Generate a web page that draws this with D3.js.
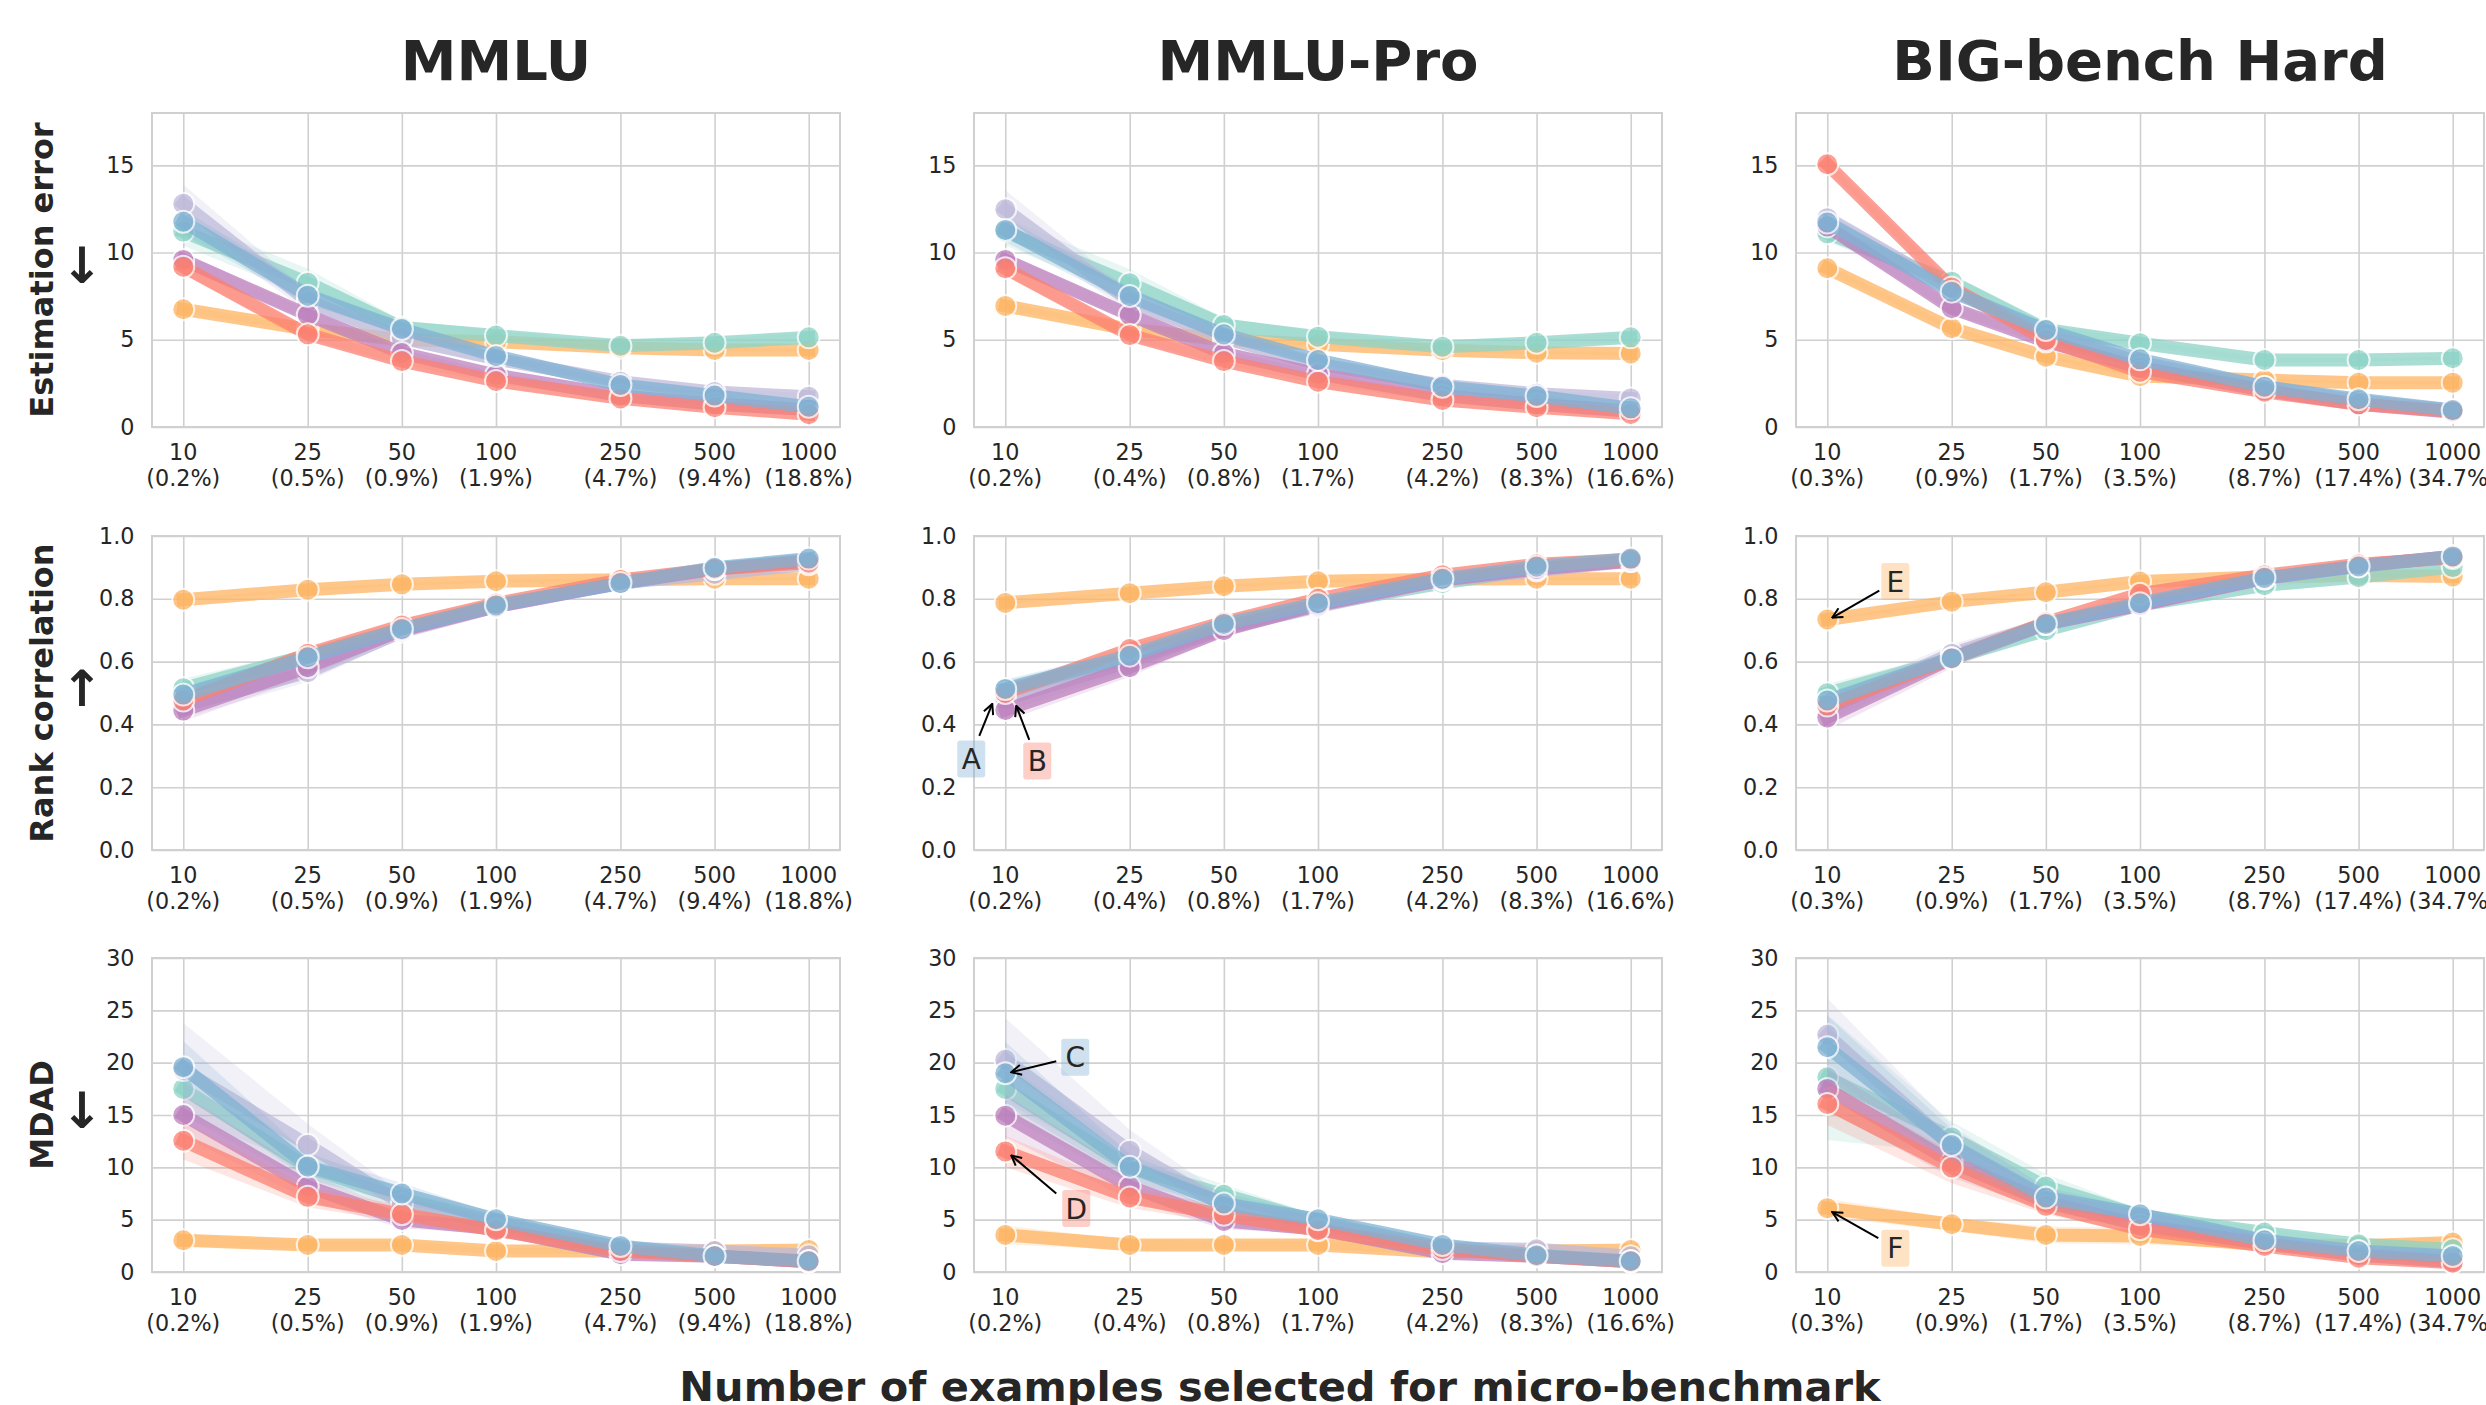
<!DOCTYPE html>
<html><head><meta charset="utf-8">
<script src="https://cdn.jsdelivr.net/npm/d3@7"></script>
<style>
body{margin:0;background:#fff}
svg{display:block}
text{font-family:"DejaVu Sans",sans-serif;fill:#262626}
</style>
</head><body>
<svg id="chart" width="2486" height="1405"></svg>
<script>
// ---------------- DATA ----------------
const sizes = [10, 25, 50, 100, 250, 500, 1000];
const pctMMLU = ["0.2%","0.5%","0.9%","1.9%","4.7%","9.4%","18.8%"];
const pctPro  = ["0.2%","0.4%","0.8%","1.7%","4.2%","8.3%","16.6%"];
const pctBBH  = ["0.3%","0.9%","1.7%","3.5%","8.7%","17.4%","34.7%"];
const benchmarks = ["MMLU", "MMLU-Pro", "BIG-bench Hard"];
const metrics = ["Estimation error", "Rank correlation", "MDAD"];
const metricArrows = ["\u2193", "\u2191", "\u2193"];
// series in drawing order
const seriesKeys = ["orange", "teal", "lavender", "purple", "red", "blue"];
const seriesColors = ["#fdb462", "#8dd3c7", "#bebada", "#bc80bd", "#fb8072", "#80b1d3"];
const yTicksEst = [0, 5, 10, 15];
const yTicksRank = [0, 0.2, 0.4, 0.6, 0.8, 1.0];
const yTicksMdad = [0, 5, 10, 15, 20, 25, 30];

// Estimation error (rows: orange, teal, lavender, purple, red, blue)
const estMMLU = [
  [6.75, 5.6, 5.0, 4.89, 4.55, 4.42, 4.42],
  [11.2, 8.27, 5.7, 5.24, 4.66, 4.83, 5.14],
  [12.8, 7.2, 5.1, 3.9, 2.6, 2.0, 1.74],
  [9.58, 6.42, 4.24, 2.98, 1.8, 1.3, 1.0],
  [9.19, 5.31, 3.78, 2.64, 1.64, 1.13, 0.73],
  [11.77, 7.53, 5.62, 4.07, 2.41, 1.8, 1.16]];
const estPro = [
  [6.94, 5.6, 5.0, 4.75, 4.4, 4.26, 4.22],
  [11.2, 8.24, 5.85, 5.18, 4.6, 4.83, 5.14],
  [12.48, 7.2, 5.1, 3.6, 2.4, 1.9, 1.64],
  [9.58, 6.42, 4.22, 3.04, 1.8, 1.3, 0.9],
  [9.1, 5.27, 3.78, 2.6, 1.55, 1.13, 0.75],
  [11.3, 7.51, 5.31, 3.84, 2.31, 1.78, 1.07]];
const estBBH = [
  [9.1, 5.66, 4.03, 2.92, 2.69, 2.54, 2.54],
  [11.1, 8.33, 5.6, 4.8, 3.84, 3.84, 3.94],
  [11.97, 7.9, 5.3, 3.7, 2.3, 1.5, 0.95],
  [11.5, 6.81, 4.9, 3.4, 2.1, 1.3, 0.85],
  [15.06, 8.0, 4.99, 3.17, 2.02, 1.3, 0.9],
  [11.72, 7.76, 5.56, 3.88, 2.31, 1.59, 0.97]];
const estMMLUci = [
  [0.2, 0.15, 0.1, 0.1, 0.1, 0.1, 0.1],
  [0.8, 0.8, 0.4, 0.3, 0.2, 0.2, 0.3],
  [1.1, 0.6, 0.4, 0.3, 0.2, 0.2, 0.2],
  [0.4, 0.3, 0.2, 0.15, 0.1, 0.1, 0.1],
  [0.4, 0.3, 0.2, 0.15, 0.1, 0.1, 0.1],
  [0.7, 0.5, 0.3, 0.2, 0.15, 0.1, 0.1]];
const estProci = [
  [0.2, 0.15, 0.1, 0.1, 0.1, 0.1, 0.1],
  [0.8, 0.8, 0.4, 0.3, 0.2, 0.2, 0.3],
  [1.1, 0.6, 0.4, 0.3, 0.2, 0.2, 0.2],
  [0.4, 0.3, 0.2, 0.15, 0.1, 0.1, 0.1],
  [0.4, 0.3, 0.2, 0.15, 0.1, 0.1, 0.1],
  [0.7, 0.5, 0.3, 0.2, 0.15, 0.1, 0.1]];
const estBBHci = [
  [0.2, 0.15, 0.1, 0.1, 0.1, 0.1, 0.1],
  [0.5, 0.4, 0.3, 0.2, 0.15, 0.1, 0.1],
  [0.5, 0.4, 0.3, 0.2, 0.15, 0.1, 0.1],
  [0.4, 0.3, 0.2, 0.15, 0.1, 0.1, 0.1],
  [0.3, 0.3, 0.2, 0.15, 0.1, 0.1, 0.1],
  [0.5, 0.4, 0.3, 0.2, 0.15, 0.1, 0.1]];

// Rank correlation
const rankMMLU = [
  [0.797, 0.829, 0.846, 0.856, 0.861, 0.864, 0.864],
  [0.515, 0.62, 0.705, 0.78, 0.848, 0.895, 0.925],
  [0.46, 0.566, 0.695, 0.775, 0.85, 0.88, 0.91],
  [0.444, 0.582, 0.70, 0.775, 0.85, 0.895, 0.92],
  [0.476, 0.625, 0.715, 0.785, 0.86, 0.895, 0.915],
  [0.495, 0.614, 0.704, 0.779, 0.85, 0.899, 0.928]];
const rankPro = [
  [0.787, 0.818, 0.84, 0.856, 0.862, 0.864, 0.864],
  [0.51, 0.61, 0.71, 0.78, 0.85, 0.895, 0.922],
  [0.48, 0.60, 0.705, 0.775, 0.86, 0.89, 0.92],
  [0.446, 0.582, 0.70, 0.78, 0.86, 0.895, 0.92],
  [0.50, 0.64, 0.725, 0.80, 0.875, 0.91, 0.925],
  [0.513, 0.619, 0.72, 0.786, 0.864, 0.903, 0.928]];
const rankBBH = [
  [0.734, 0.791, 0.821, 0.855, 0.87, 0.874, 0.871],
  [0.499, 0.61, 0.70, 0.78, 0.843, 0.869, 0.901],
  [0.45, 0.625, 0.72, 0.78, 0.865, 0.905, 0.935],
  [0.422, 0.61, 0.72, 0.78, 0.865, 0.905, 0.935],
  [0.46, 0.61, 0.725, 0.816, 0.875, 0.91, 0.93],
  [0.476, 0.611, 0.72, 0.786, 0.867, 0.903, 0.935]];
const rankMMLUci = [
  [0.005, 0.005, 0.005, 0.005, 0.005, 0.005, 0.005],
  [0.03, 0.02, 0.01, 0.01, 0.008, 0.005, 0.005],
  [0.04, 0.03, 0.02, 0.012, 0.01, 0.008, 0.006],
  [0.035, 0.03, 0.02, 0.012, 0.01, 0.008, 0.006],
  [0.02, 0.015, 0.01, 0.01, 0.008, 0.005, 0.005],
  [0.025, 0.02, 0.01, 0.01, 0.008, 0.005, 0.005]];
const rankProci = [
  [0.005, 0.005, 0.005, 0.005, 0.005, 0.005, 0.005],
  [0.03, 0.02, 0.01, 0.01, 0.008, 0.005, 0.005],
  [0.04, 0.03, 0.02, 0.012, 0.01, 0.008, 0.006],
  [0.035, 0.03, 0.02, 0.012, 0.01, 0.008, 0.006],
  [0.02, 0.015, 0.01, 0.01, 0.008, 0.005, 0.005],
  [0.03, 0.02, 0.01, 0.01, 0.008, 0.005, 0.005]];
const rankBBHci = [
  [0.005, 0.005, 0.005, 0.005, 0.005, 0.005, 0.005],
  [0.03, 0.02, 0.01, 0.01, 0.008, 0.005, 0.005],
  [0.04, 0.03, 0.02, 0.012, 0.01, 0.008, 0.006],
  [0.04, 0.03, 0.02, 0.012, 0.01, 0.008, 0.006],
  [0.02, 0.015, 0.01, 0.01, 0.008, 0.005, 0.005],
  [0.025, 0.02, 0.01, 0.01, 0.008, 0.005, 0.005]];

// MDAD
const mdadMMLU = [
  [3.03, 2.59, 2.59, 2.01, 2.0, 2.0, 2.1],
  [17.49, 10.0, 6.96, 4.8, 2.3, 1.5, 1.0],
  [19.3, 12.16, 6.5, 4.6, 2.3, 2.0, 1.6],
  [15.0, 8.17, 4.98, 4.1, 1.7, 1.5, 1.0],
  [12.54, 7.18, 5.52, 3.99, 2.0, 1.5, 1.0],
  [19.57, 10.09, 7.5, 5.04, 2.49, 1.53, 1.05]];
const mdadPro = [
  [3.54, 2.59, 2.59, 2.59, 1.9, 2.0, 2.1],
  [17.49, 10.0, 7.37, 4.8, 2.3, 1.5, 1.0],
  [20.27, 11.59, 6.3, 4.7, 2.3, 2.17, 1.5],
  [14.94, 8.17, 4.88, 4.1, 1.8, 1.5, 1.0],
  [11.52, 7.12, 5.46, 3.99, 2.2, 1.5, 1.0],
  [18.99, 10.05, 6.54, 5.04, 2.59, 1.6, 1.05]];
const mdadBBH = [
  [6.1, 4.56, 3.54, 3.45, 2.6, 2.5, 2.81],
  [18.6, 12.86, 8.17, 5.4, 3.77, 2.65, 2.17],
  [22.66, 12.0, 7.0, 5.2, 3.0, 1.9, 1.4],
  [17.49, 10.5, 6.7, 4.5, 2.7, 1.6, 1.0],
  [16.05, 9.99, 6.32, 4.09, 2.49, 1.37, 0.89],
  [21.48, 12.13, 7.12, 5.52, 3.03, 2.01, 1.53]];
const mdadMMLUci = [
  [0.6, 0.4, 0.4, 0.3, 0.3, 0.3, 0.3],
  [2.5, 1.5, 1.0, 0.6, 0.3, 0.3, 0.2],
  [4.5, 2.0, 1.0, 0.6, 0.3, 0.3, 0.3],
  [2.0, 1.3, 0.8, 0.5, 0.3, 0.2, 0.2],
  [1.8, 1.0, 0.8, 0.5, 0.3, 0.2, 0.2],
  [2.5, 1.2, 1.0, 0.5, 0.3, 0.2, 0.2]];
const mdadProci = [
  [0.9, 0.5, 0.4, 0.4, 0.3, 0.3, 0.3],
  [2.5, 1.5, 1.0, 0.6, 0.3, 0.3, 0.2],
  [4.0, 2.0, 1.0, 0.6, 0.3, 0.3, 0.3],
  [2.0, 1.3, 0.8, 0.5, 0.3, 0.2, 0.2],
  [1.5, 1.0, 0.8, 0.5, 0.3, 0.2, 0.2],
  [3.0, 1.2, 1.0, 0.5, 0.3, 0.2, 0.2]];
const mdadBBHci = [
  [0.9, 0.6, 0.8, 0.8, 0.4, 0.5, 0.5],
  [6.0, 1.5, 1.2, 0.6, 0.4, 0.3, 0.3],
  [3.5, 2.0, 1.0, 0.6, 0.4, 0.3, 0.3],
  [2.0, 1.5, 0.8, 0.5, 0.3, 0.2, 0.2],
  [2.0, 1.5, 0.8, 0.5, 0.3, 0.2, 0.2],
  [3.0, 1.5, 1.0, 0.5, 0.4, 0.3, 0.3]];

// ---------------- LAYOUT ----------------
const svg = d3.select("#chart");
const colLeft = [152, 974, 1796], panelW = 688;
const rowTop = [113, 536, 958], panelH = 314;
const yDomains = [[0, 18], [0, 1], [0, 30]];
const yTicks = [yTicksEst, yTicksRank, yTicksMdad];
const yFormats = [d3.format("d"), d3.format(".1f"), d3.format("d")];
const pcts = [pctMMLU, pctPro, pctBBH];
const values = [[estMMLU, estPro, estBBH], [rankMMLU, rankPro, rankBBH], [mdadMMLU, mdadPro, mdadBBH]];
const cis = [[estMMLUci, estProci, estBBHci], [rankMMLUci, rankProci, rankBBHci], [mdadMMLUci, mdadProci, mdadBBHci]];
const gridColor = "#d0d0d0";
const tickFont = 22.3;

// annotations: [row, col, seriesIndex, pointIndex, label, boxColor, head dx,dy, tail dx,dy, label dx,dy]
const annotations = [
  [1, 1, 5, 0, "A", "rgba(128,177,211,0.38)", -13, 15, -26, 47, -34, 70],
  [1, 1, 3, 0, "B", "rgba(251,128,114,0.38)", 11, -4, 24, 30, 32, 51],
  [2, 1, 5, 0, "C", "rgba(128,177,211,0.38)", 6, -1, 51, -12, 70, -16],
  [2, 1, 4, 0, "D", "rgba(251,128,114,0.38)", 6, 4, 51, 42, 71, 57],
  [1, 2, 0, 0, "E", "rgba(253,180,98,0.38)", 5, -2, 52, -29, 68, -38],
  [2, 2, 0, 0, "F", "rgba(253,180,98,0.38)", 5, 4, 51, 30, 68, 40]
];

const defs = svg.append("defs");
defs.append("marker").attr("id", "ahead").attr("viewBox", "0 0 12 12")
  .attr("refX", 11).attr("refY", 6).attr("markerWidth", 12).attr("markerHeight", 12)
  .attr("markerUnits", "userSpaceOnUse").attr("orient", "auto")
  .append("path").attr("d", "M1,1 L11,6 L1,11").attr("fill", "none")
  .attr("stroke", "#000").attr("stroke-width", 2);

const scales = {};

for (let r = 0; r < 3; r++) {
  for (let c = 0; c < 3; c++) {
    const g = svg.append("g").attr("transform", `translate(${colLeft[c]},${rowTop[r]})`);
    const xs = d3.scaleLog().domain([Math.pow(10, 0.9), Math.pow(10, 3.1)]).range([0, panelW]);
    const ys = d3.scaleLinear().domain(yDomains[r]).range([panelH, 0]);
    scales[r + "_" + c] = {xs, ys};

    // grid
    g.append("g").call(d3.axisLeft(ys).tickValues(yTicks[r]).tickSize(-panelW).tickFormat(""))
      .call(a => { a.select(".domain").remove(); a.selectAll("line").attr("stroke", gridColor).attr("stroke-width", 1.6); });
    g.append("g").attr("transform", `translate(0,${panelH})`)
      .call(d3.axisBottom(xs).tickValues(sizes).tickSize(-panelH).tickFormat(""))
      .call(a => { a.select(".domain").remove(); a.selectAll("line").attr("stroke", gridColor).attr("stroke-width", 1.6); });

    // frame
    g.append("rect").attr("width", panelW).attr("height", panelH)
      .attr("fill", "none").attr("stroke", gridColor).attr("stroke-width", 2);

    // y tick labels
    g.append("g").call(d3.axisLeft(ys).tickValues(yTicks[r]).tickSize(0).tickPadding(17.5).tickFormat(yFormats[r]))
      .call(a => { a.select(".domain").remove(); a.selectAll("text").style("font-size", tickFont + "px").attr("fill", "#262626"); });

    // x tick labels (two lines)
    const xt = g.append("g").attr("transform", `translate(0,${panelH})`);
    sizes.forEach((s, i) => {
      const t = xt.append("text").attr("x", xs(s)).attr("text-anchor", "middle").style("font-size", tickFont + "px");
      t.append("tspan").attr("x", xs(s)).attr("y", 32.5).text(String(s));
      t.append("tspan").attr("x", xs(s)).attr("y", 32.5 + 26.7).text("(" + pcts[c][i] + ")");
    });

    // series
    const vals = values[r][c], ci = cis[r][c];
    vals.forEach((arr, si) => {
      const col = seriesColors[si];
      const pts = arr.map((v, i) => ({x: sizes[i], y: v, e: ci[si][i]}));
      g.append("path").datum(pts)
        .attr("d", d3.area().x(d => xs(d.x)).y0(d => ys(d.y - d.e)).y1(d => ys(d.y + d.e)))
        .attr("fill", col).attr("opacity", 0.2);
      g.append("path").datum(pts)
        .attr("d", d3.line().x(d => xs(d.x)).y(d => ys(d.y)))
        .attr("fill", "none").attr("stroke", col).attr("stroke-width", 13)
        .attr("stroke-linejoin", "round").attr("stroke-linecap", "square").attr("opacity", 0.75);
      g.selectAll(null).data(pts).enter().append("circle")
        .attr("cx", d => xs(d.x)).attr("cy", d => ys(d.y)).attr("r", 11)
        .attr("fill", col).attr("stroke", "#fff").attr("stroke-width", 2).attr("opacity", 0.75);
    });
  }
}

// titles
benchmarks.forEach((b, c) => {
  svg.append("text").attr("x", colLeft[c] + panelW / 2).attr("y", 80)
    .attr("text-anchor", "middle").style("font-size", "56px").style("font-weight", "bold").text(b);
});

// row labels
metrics.forEach((m, r) => {
  const cy = rowTop[r] + panelH / 2;
  svg.append("text").attr("transform", `translate(53,${cy}) rotate(-90)`)
    .attr("text-anchor", "middle").style("font-size", "32px").style("font-weight", "bold").text(m);
  svg.append("text").attr("x", 82).attr("y", cy - 4).attr("text-anchor", "middle")
    .attr("dominant-baseline", "central")
    .style("font-size", "50px").style("font-weight", "bold").text(metricArrows[r]);
});

// x label
svg.append("text").attr("x", 1280).attr("y", 1401).attr("text-anchor", "middle")
  .style("font-size", "41.5px").style("font-weight", "bold")
  .text("Number of examples selected for micro-benchmark");

// annotations
annotations.forEach(([r, c, si, pi, label, bg, hx, hy, tx, ty, lx, ly]) => {
  const {xs, ys} = scales[r + "_" + c];
  const px = colLeft[c] + xs(sizes[pi]);
  const py = rowTop[r] + ys(values[r][c][si][pi]);
  const ag = svg.append("g");
  const fs = 28;
  const bw = 28, bh = 37;
  ag.append("rect").attr("x", px + lx - bw / 2).attr("y", py + ly - bh / 2)
    .attr("width", bw).attr("height", bh).attr("rx", 3).attr("fill", bg);
  ag.append("text").attr("x", px + lx).attr("y", py + ly + 0.36 * fs)
    .attr("text-anchor", "middle").style("font-size", fs + "px").text(label);
  ag.append("line").attr("x1", px + tx).attr("y1", py + ty).attr("x2", px + hx).attr("y2", py + hy)
    .attr("stroke", "#000").attr("stroke-width", 2).attr("marker-end", "url(#ahead)");
});
</script>
</body></html>
